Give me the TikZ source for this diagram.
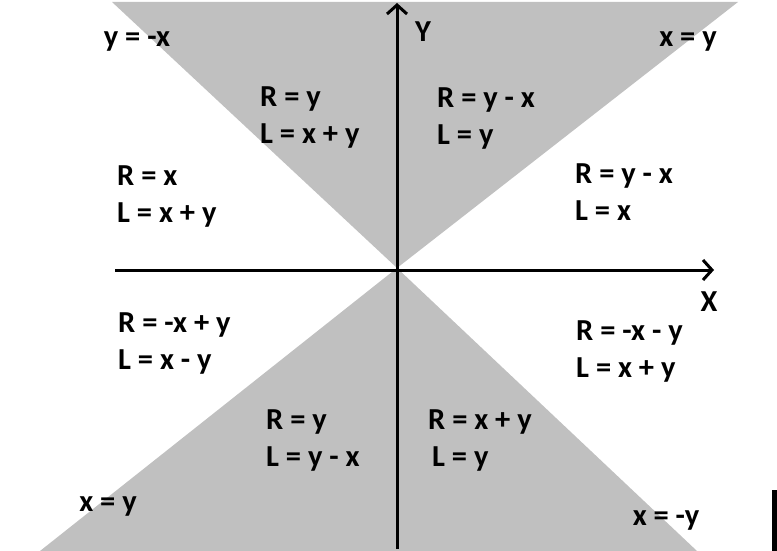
\documentclass[tikz,border=0pt]{standalone}
\usepackage{fontspec}
\setmainfont{Carlito}
\usetikzlibrary{arrows.meta}
\definecolor{shade}{RGB}{192,192,192}

\begin{document}
\begin{tikzpicture}[
  x=1pt, y=-1pt,
  font=\fontsize{30.5}{37}\selectfont\bfseries,
  region/.style={fill=shade, draw=none},
  lbl/.style={anchor=west, align=left, inner sep=0pt},
  eqn/.style={anchor=center, inner sep=0pt},
  axis/.style={line width=3pt, -{Straight Barb[length=9pt, width=20pt, line width=3pt]}},
]
\useasboundingbox (0,0) rectangle (777,551);

% shaded sectors
\coordinate (O) at (397,268);
\fill[region] (112,2) -- (738,2) -- (O) -- cycle;
\fill[region] (40,551) -- (697,551) -- (O) -- cycle;
\fill[black] (772,490) rectangle (777,551);

% axes
\coordinate (xs) at (115,270);
\coordinate (xe) at (714,270);
\coordinate (ys) at (397,549);
\coordinate (ye) at (397,3);
\draw[axis] (xs) -- (xe);
\draw[axis] (ys) -- (ye);
\node[eqn] (xlab) at (709,302) {X};
\node[eqn] (ylab) at (423,32) {Y};

% boundary lines
\node[eqn] (tl) at (137,42) {y = -x};
\node[eqn] (tr) at (688,42) {x = y};
\node[eqn] (bl) at (108,507) {x = y};
\node[eqn] (br) at (666,520) {x = -y};

% regions
\node[lbl] (r1) at (260,118) {R = y\\L = x + y};
\node[lbl] (r2) at (437,119) {R = y - x\\L = y};
\node[lbl] (r3) at (117,197) {R = x\\L = x + y};
\node[lbl] (r4) at (575,192) {R = y - x\\L = x};
\node[lbl] (r5) at (118,344) {R = -x + y\\L = x - y};
\node[lbl] (r6) at (576,352) {R = -x - y\\L = x + y};
\node[lbl] (r7) at (266,441) {R = y\\L = y - x};
\node[lbl] (r8) at (428,441) {R = x + y\\\hspace{4pt}L = y};

\end{tikzpicture}
\end{document}
